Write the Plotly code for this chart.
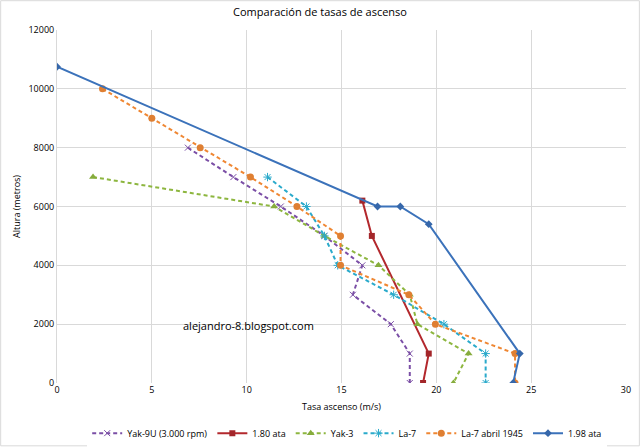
import plotly.graph_objs as go

# Yak-9U (3.000 rpm)
yak9u_x = [6.9, 9.3, 11.8, 14.1, 16.1, 15.6, 17.6, 18.6, 18.6]
yak9u_y = [8000, 7000, 6000, 5000, 4000, 3000, 2000, 1000, 0]

# 1.80 ata
ata180_x = [16.1, 16.6, 19.6, 19.3]
ata180_y = [6200, 5000, 1000, 0]

# Yak-3
yak3_x = [1.9, 11.45, 14.1, 16.95, 18.6, 19.0, 21.7, 20.9]
yak3_y = [7000, 6000, 5000, 4000, 3000, 2000, 1000, 0]

# La-7
la7_x = [11.1, 13.15, 14.1, 14.8, 17.75, 20.4, 22.6, 22.6]
la7_y = [7000, 6000, 5000, 4000, 3000, 2000, 1000, 0]

# La-7 abril 1945
la7_45_x = [2.4, 5.0, 7.55, 10.2, 12.65, 14.95, 14.95, 18.55, 19.95, 24.15, 24.15]
la7_45_y = [10000, 9000, 8000, 7000, 6000, 5000, 4000, 3000, 2000, 1000, 0]

# 1.98 ata
ata198_x = [0, 16.9, 18.1, 19.6, 24.4, 24.05]
ata198_y = [10750, 6000, 6000, 5400, 1000, 0]

font = 'Open Sans'
dash = '4px,3px'

fig = go.Figure()

fig.add_trace(go.Scatter(x=yak9u_x, y=yak9u_y, name='Yak-9U (3.000 rpm)', mode='lines+markers',
                         line=dict(color='#7B4FA6', width=2, dash=dash),
                         marker=dict(symbol='x-thin-open', size=6, line=dict(color='#A99BC4', width=1))))
fig.add_trace(go.Scatter(x=ata180_x, y=ata180_y, name='1.80 ata', mode='lines+markers',
                         line=dict(color='#B3282D', width=2),
                         marker=dict(symbol='square', size=6, color='#A3262A')))
fig.add_trace(go.Scatter(x=yak3_x, y=yak3_y, name='Yak-3', mode='lines+markers',
                         line=dict(color='#8DB63F', width=2, dash=dash),
                         marker=dict(symbol='triangle-up', size=7, color='#86AC3C')))
fig.add_trace(go.Scatter(x=la7_x, y=la7_y, name='La-7', mode='lines+markers',
                         line=dict(color='#2AAACB', width=2, dash=dash),
                         marker=dict(symbol='asterisk-open', size=7, line=dict(color='#74C4DA', width=1))))
fig.add_trace(go.Scatter(x=la7_45_x, y=la7_45_y, name='La-7 abril 1945', mode='lines+markers',
                         line=dict(color='#EF8733', width=2, dash=dash),
                         marker=dict(symbol='circle', size=7, color='#DF7F32')))
fig.add_trace(go.Scatter(x=ata198_x, y=ata198_y, name='1.98 ata', mode='lines+markers',
                         line=dict(color='#3B72BA', width=2),
                         marker=dict(symbol='diamond', size=6, color='#3667AA')))

fig.add_annotation(x=10.1, y=1970, xref='x', yref='y', text='alejandro-8.blogspot.com', showarrow=False,
                   font=dict(family=font, size=11, color='#000000'))

# chart border
fig.add_shape(type='rect', xref='paper', yref='paper', x0=-0.099, x1=1.0235, y0=-0.178, y1=1.083,
              line=dict(color='#D9D9D9', width=1))

fig.update_layout(
    width=640, height=447,
    margin=dict(l=57, r=14, t=30, b=64),
    paper_bgcolor='white', plot_bgcolor='white',
    title=dict(text='Comparación de tasas de ascenso', x=0.5, xanchor='center', y=0.972, yanchor='middle',
               font=dict(family=font, size=11, color='#000000')),
    legend=dict(orientation='h', x=0.51, xanchor='center', yref='container', y=0.031, yanchor='middle',
                font=dict(family=font, size=9, color='#000000'), itemwidth=30, tracegroupgap=0),
    hovermode=False,
)
fig.update_xaxes(range=[0, 30], dtick=5, showgrid=True, gridcolor='#D9D9D9', zeroline=False, automargin=False,
                 showline=False, ticks='', tickfont=dict(family=font, size=9, color='#000000'),
                 title=dict(text='Tasa ascenso (m/s)', font=dict(family=font, size=9, color='#000000'), standoff=8))
fig.update_yaxes(range=[0, 12000], dtick=2000, tickformat='d', showgrid=True, gridcolor='#D9D9D9',
                 zeroline=False, automargin=False,
                 showline=True, linecolor='#D9D9D9', ticks='', tickfont=dict(family=font, size=9, color='#000000'),
                 title=dict(text='Altura (metros)', font=dict(family=font, size=9, color='#000000'), standoff=6))

fig.write_html("out.html", config={'displayModeBar': False},
               post_script="document.body.style.margin='0';")
